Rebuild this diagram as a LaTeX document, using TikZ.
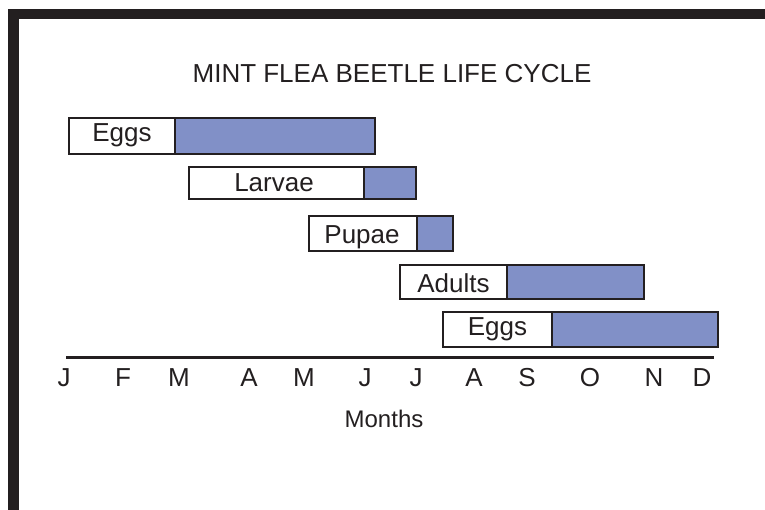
\documentclass[tikz,border=0pt]{standalone}
\usepackage{fontspec}
\setmainfont{Liberation Sans}
\definecolor{ink}{RGB}{35,31,32}
\definecolor{barblue}{RGB}{129,144,199}
\tikzset{
  stagebox/.style={draw=ink,line width=1.2pt,fill=white},
  spanbox/.style={draw=ink,line width=1.2pt,fill=barblue}
}
\begin{document}
\begin{tikzpicture}[x=1pt,y=-1pt,every node/.style={font=\fontsize{26}{31}\selectfont,text=ink,inner sep=0pt,anchor=base}]
\useasboundingbox (0,0) rectangle (765,510);
\fill[ink] (8,9) rectangle (765,19); \fill[ink] (8,9) rectangle (19,510);
\node (title) at (392,83) {MINT FLEA BEETLE LIFE CYCLE};
\draw[spanbox] (175,118) rectangle (375,154); \draw[stagebox] (69,118) rectangle (175,154); \node (eggs) at (122,141.7) {Eggs};
\draw[spanbox] (364,167) rectangle (416,199); \draw[stagebox] (189,167) rectangle (364,199); \node (larvae) at (274,192) {Larvae};
\draw[spanbox] (417,216) rectangle (453,251); \draw[stagebox] (309,216) rectangle (417,251); \node (pupae) at (362,243.3) {Pupae};
\draw[spanbox] (507,265) rectangle (644,299); \draw[stagebox] (400,265) rectangle (507,299); \node (adults) at (453.5,292.7) {Adults};
\draw[spanbox] (552,312) rectangle (718,347); \draw[stagebox] (443,312) rectangle (552,347); \node (eggs2) at (497.5,335.7) {Eggs};
\draw[ink,line width=3pt] (66,357) -- (714,357);
\foreach \m/\x [count=\i] in {J/64,F/123,M/179,A/249,M/304,J/365,J/416,A/474,S/527,O/590,N/654,D/702}
  \node (mon\i) at (\x,386) {\m};
\node[font=\fontsize{24}{29}\selectfont] (months) at (384,427) {Months};
\end{tikzpicture}
\end{document}
